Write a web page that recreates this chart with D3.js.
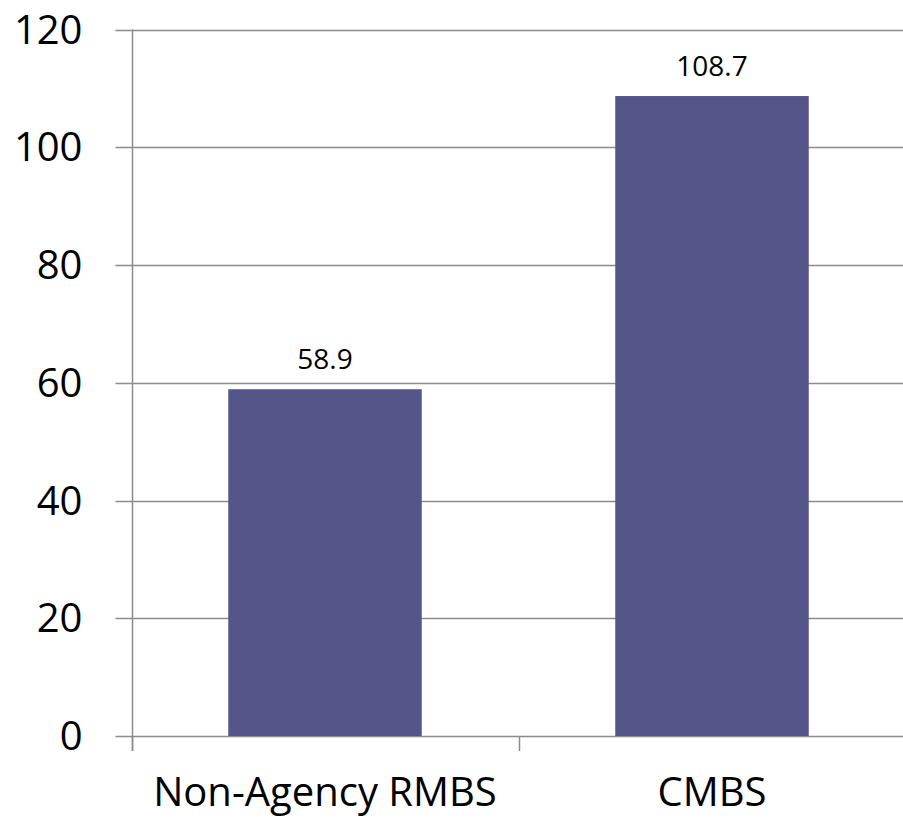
<!DOCTYPE html>
<html>
<head>
<meta charset="utf-8">
<script src="https://cdn.jsdelivr.net/npm/d3@7"></script>
<style>
  body { margin: 0; background: #fff; }
  svg { display: block; font-family: "Open Sans", "Noto Sans", sans-serif; }
</style>
</head>
<body>
<script>
// data
var categories = ["Non-Agency RMBS", "CMBS"]
var values = [58.9, 108.7]
var yTicks = [0, 20, 40, 60, 80, 100, 120]

var W = 903, H = 819
var margin = { top: 29.5, right: -2.5, bottom: 83, left: 131.5 }
var width = W - margin.left - margin.right
var height = H - margin.top - margin.bottom

var gridColor = "#8c8c8c"
var barColor = "#55558a"

var svg = d3.select("body").append("svg")
    .attr("width", W)
    .attr("height", H)

var x = d3.scaleBand()
    .domain(categories)
    .range([margin.left, margin.left + width])
    .paddingInner(0.5)
    .paddingOuter(0.25)

var yScale = d3.scaleLinear()
    .domain([0, 120])
    .range([margin.top + height, margin.top])

// horizontal gridlines, poking out left of the axis like ticks
svg.append("g")
    .selectAll("line")
    .data(yTicks)
    .join("line")
    .attr("x1", margin.left - 16)
    .attr("x2", W)
    .attr("y1", d => Math.round(yScale(d)) + 0.5)
    .attr("y2", d => Math.round(yScale(d)) + 0.5)
    .style("stroke", gridColor)
    .style("stroke-width", 1.5)

// y axis labels
var yAxis = svg.append("g")
    .attr("transform", "translate(" + (margin.left - 16) + ",0)")
    .call(d3.axisLeft(yScale).tickValues(yTicks).tickSize(0).tickPadding(33))
yAxis.select(".domain").remove()
yAxis.selectAll("text")
    .style("font-size", "40px")
    .style("font-family", "'Open Sans', sans-serif")
    .attr("dy", "0.34em")
    .attr("fill", "#000")

// bars
svg.append("g")
    .selectAll("rect")
    .data(values)
    .join("rect")
    .attr("x", (d, i) => x(categories[i]))
    .attr("width", x.bandwidth())
    .attr("y", d => yScale(d))
    .attr("height", d => yScale(0) - yScale(d))
    .style("fill", barColor)

// value labels
svg.append("g")
    .selectAll("text")
    .data(values)
    .join("text")
    .attr("x", (d, i) => x(categories[i]) + x.bandwidth() / 2)
    .attr("y", d => yScale(d) - 20)
    .attr("text-anchor", "middle")
    .style("font-size", "28px")
    .style("fill", "#000")
    .text(d => d.toFixed(1))

// y axis line
svg.append("line")
    .attr("x1", Math.round(margin.left) + 0.5)
    .attr("x2", Math.round(margin.left) + 0.5)
    .attr("y1", margin.top)
    .attr("y2", margin.top + height + 15)
    .style("stroke", gridColor)
    .style("stroke-width", 1.5)

// x axis: category ticks on band edges, labels
var step = x.step()
var edges = categories.map((c, i) => margin.left + i * step)
svg.append("g")
    .selectAll("line")
    .data(edges)
    .join("line")
    .attr("x1", d => Math.round(d) + 0.5)
    .attr("x2", d => Math.round(d) + 0.5)
    .attr("y1", yScale(0))
    .attr("y2", yScale(0) + 15)
    .style("stroke", gridColor)
    .style("stroke-width", 1.5)

svg.append("g")
    .selectAll("text")
    .data(categories)
    .join("text")
    .attr("x", d => x(d) + x.bandwidth() / 2)
    .attr("y", yScale(0) + 70)
    .attr("text-anchor", "middle")
    .style("font-size", "40px")
    .style("fill", "#000")
    .text(d => d)
</script>
</body>
</html>
